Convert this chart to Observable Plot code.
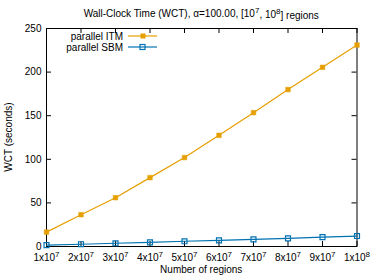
<!DOCTYPE html>
<html>
<head>
<meta charset="utf-8">
<script src="https://cdn.jsdelivr.net/npm/d3@7"></script>
<script src="https://cdn.jsdelivr.net/npm/@observablehq/plot@0.6"></script>
<style>
  html, body { margin: 0; padding: 0; background: #fff; }
  svg text { font-family: "Liberation Sans", Arial, sans-serif; }
</style>
</head>
<body>
<div id="chart"></div>
<script>
const regions = [1e7, 2e7, 3e7, 4e7, 5e7, 6e7, 7e7, 8e7, 9e7, 1e8];
const itm = [16.5, 36.5, 56, 79, 102, 127.5, 153.5, 180, 205.5, 231];
const sbm = [1.5, 2.6, 3.7, 4.8, 6, 7, 8.2, 9.4, 10.8, 12];
const seriesNames = ["parallel ITM", "parallel SBM"];
const colors = ["#e69f00", "#0072b2"];
const yTicks = [0, 50, 100, 150, 200, 250];
const xTickLabels = ["1x10^7","2x10^7","3x10^7","4x10^7","5x10^7","6x10^7","7x10^7","8x10^7","9x10^7","1x10^8"];

const W = 374, H = 278;
const mL = 46, mR = 17.5, mT = 28, mB = 32;
const innerH = H - mT - mB;
const innerW = W - mL - mR;

const data = [];
regions.forEach((r, i) => {
  data.push({x: r, y: itm[i], s: seriesNames[0]});
  data.push({x: r, y: sbm[i], s: seriesNames[1]});
});
const itmData = data.filter(d => d.s === seriesNames[0]);
const sbmData = data.filter(d => d.s === seriesNames[1]);

const plot = Plot.plot({
  width: W, height: H,
  marginLeft: mL, marginRight: mR, marginTop: mT, marginBottom: mB,
  style: {fontFamily: "Liberation Sans, Arial, sans-serif", fontSize: "10px", background: "#fff"},
  x: {domain: [1e7, 1e8], label: null},
  y: {domain: [0, 250], label: null},
  marks: [
    Plot.frame({stroke: "#000", strokeWidth: 1}),
    Plot.tickX(regions, {x: d => d, stroke: "#000", strokeWidth: 1, insetTop: innerH - 5}),
    Plot.tickX(regions, {x: d => d, stroke: "#000", strokeWidth: 1, insetBottom: innerH - 5}),
    Plot.tickY(yTicks, {y: d => d, stroke: "#000", strokeWidth: 1, insetRight: innerW - 5}),
    Plot.tickY(yTicks, {y: d => d, stroke: "#000", strokeWidth: 1, insetLeft: innerW - 5}),
    Plot.axisX({ticks: regions, tickSize: 0, tickPadding: 7, tickFormat: (d, i) => xTickLabels[i], fontSize: 10, fill: "#000"}),
    Plot.axisY({ticks: yTicks, tickSize: 0, tickPadding: 5, tickFormat: d => String(d), fontSize: 10, fill: "#000"}),
    Plot.line(itmData, {x: "x", y: "y", stroke: colors[0], strokeWidth: 1.2}),
    Plot.line(sbmData, {x: "x", y: "y", stroke: colors[1], strokeWidth: 1.2}),
    Plot.dot(itmData, {x: "x", y: "y", symbol: "square", r: 2.6, fill: colors[0], stroke: colors[0], strokeWidth: 0.5}),
    Plot.dot(sbmData, {x: "x", y: "y", symbol: "square", r: 2.8, fill: "none", stroke: colors[1], strokeWidth: 1.2})
  ]
});

const svg = d3.select(plot);

svg.selectAll("g[aria-label='x-axis tick label'] text").each(function() {
  const t = d3.select(this);
  const txt = t.text();
  const parts = txt.split("^");
  t.text(null);
  t.append("tspan").text(parts[0]);
  t.append("tspan").attr("dy", "-0.45em").attr("font-size", "8px").text(parts[1]);
});

const title = svg.append("text")
  .attr("x", mL + innerW / 2).attr("y", 17)
  .attr("text-anchor", "middle").attr("font-size", "10px").attr("fill", "#000");
title.append("tspan").text("Wall-Clock Time (WCT), α=100.00, [10");
title.append("tspan").attr("dy", "-0.45em").attr("font-size", "8px").text("7");
title.append("tspan").attr("dy", "0.45em").text(", 10");
title.append("tspan").attr("dy", "-0.45em").attr("font-size", "8px").text("8");
title.append("tspan").attr("dy", "0.45em").text("] regions");

svg.append("text")
  .attr("x", mL + innerW / 2).attr("y", 273)
  .attr("text-anchor", "middle").attr("font-size", "10px").attr("fill", "#000")
  .text("Number of regions");
svg.append("text")
  .attr("transform", `translate(12,${mT + innerH / 2}) rotate(-90)`)
  .attr("text-anchor", "middle").attr("font-size", "10px").attr("fill", "#000")
  .text("WCT (seconds)");

const leg = svg.append("g");
seriesNames.forEach((name, i) => {
  const y = 36 + i * 11;
  leg.append("text").attr("x", 123).attr("y", y).attr("dy", "0.35em")
    .attr("text-anchor", "end").attr("font-size", "10px").attr("fill", "#000").text(name);
  leg.append("line").attr("x1", 128).attr("x2", 157).attr("y1", y).attr("y2", y)
    .attr("stroke", colors[i]).attr("stroke-width", 1.2);
  if (i === 0) {
    leg.append("rect").attr("x", 140.5).attr("y", y - 2.5).attr("width", 5).attr("height", 5).attr("fill", colors[i]);
  } else {
    leg.append("rect").attr("x", 140).attr("y", y - 2.5).attr("width", 5).attr("height", 5)
      .attr("fill", "none").attr("stroke", colors[i]).attr("stroke-width", 1.2);
  }
});

document.getElementById("chart").appendChild(plot);
</script>
</body>
</html>
